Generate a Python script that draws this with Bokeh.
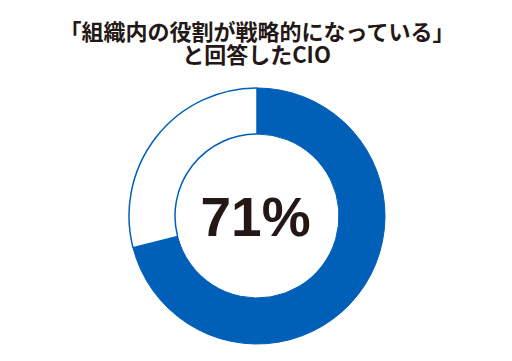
import math
from bokeh.plotting import figure
from bokeh.embed import file_html
from bokeh.resources import INLINE
from bokeh.core.properties import value

title_lines = ["「組織内の役割が戦略的になっている」", "と回答したCIO"]
categories = ["戦略的", "その他"]
shares = [71, 29]
center_label = "71%"

BLUE = "#005fb7"
INK = "#231815"

W, H = 496, 345
p = figure(width=W, height=H, x_range=(0, W), y_range=(0, H),
           output_backend="svg", toolbar_location=None,
           min_border=0, outline_line_color=None)
p.axis.visible = False
p.grid.visible = False
p.background_fill_color = "white"
p.border_fill_color = "white"

cx, cy = 256.5, H - 215.5
r_in, r_out = 82, 128

total = sum(shares)
starts, ends = [], []
a = math.pi / 2
for s in shares:
    starts.append(a - 2 * math.pi * s / total)
    ends.append(a)
    a -= 2 * math.pi * s / total

p.annular_wedge(x=cx, y=cy, inner_radius=r_in, outer_radius=r_out,
                start_angle=starts[0], end_angle=ends[0],
                fill_color=BLUE, line_color=BLUE, line_width=1)
p.annular_wedge(x=cx, y=cy, inner_radius=r_in, outer_radius=r_out,
                start_angle=starts[1], end_angle=ends[1],
                fill_color="white", line_color=BLUE, line_width=1.5)

p.text(x=[255], y=[H - 216], text=[center_label], text_align="center",
       text_baseline="middle", text_font=value("Liberation Sans"),
       text_font_style="bold", text_font_size="55px", text_color=INK)

p.text(x=[257, 256], y=[H - 29, H - 52], text=title_lines,
       text_align="center", text_baseline="middle",
       text_font=value("Noto Sans CJK JP"), text_font_style="bold",
       text_font_size="22px", text_color=INK)

open("out.html", "w").write(file_html(p, INLINE))
